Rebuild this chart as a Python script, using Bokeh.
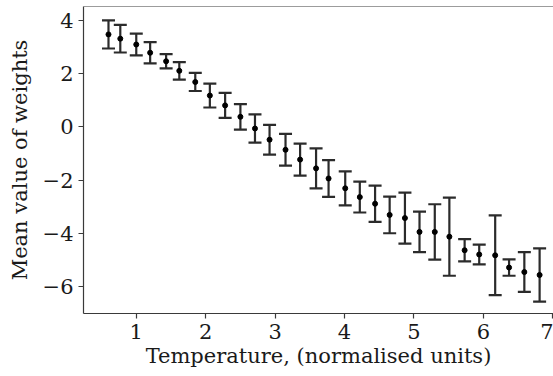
from bokeh.plotting import figure
from bokeh.models import ColumnDataSource, Whisker, TeeHead, Span, Range1d, FixedTicker, CustomJSTickFormatter
from bokeh.embed import file_html
from bokeh.resources import INLINE

# Data
temperature = [0.60, 0.77, 1.00, 1.20, 1.43, 1.62, 1.85, 2.06, 2.28, 2.50,
               2.71, 2.92, 3.15, 3.36, 3.59, 3.77, 4.01, 4.22, 4.44, 4.65,
               4.87, 5.08, 5.30, 5.51, 5.73, 5.94, 6.17, 6.37, 6.59, 6.81]
mean_weight = [3.48, 3.32, 3.10, 2.79, 2.47, 2.11, 1.69, 1.18, 0.81, 0.38,
               -0.06, -0.48, -0.86, -1.23, -1.56, -1.94, -2.31, -2.64, -2.89, -3.31,
               -3.43, -3.95, -3.95, -4.13, -4.64, -4.80, -4.83, -5.29, -5.46, -5.57]
error = [0.53, 0.52, 0.41, 0.40, 0.27, 0.33, 0.34, 0.45, 0.47, 0.48,
         0.53, 0.56, 0.60, 0.60, 0.75, 0.69, 0.64, 0.58, 0.68, 0.69,
         0.96, 0.76, 1.04, 1.47, 0.42, 0.37, 1.50, 0.31, 0.75, 1.00]
x_ticks = [1, 2, 3, 4, 5, 6, 7]
y_ticks = [-6, -4, -2, 0, 2, 4]

lower = [m - e for m, e in zip(mean_weight, error)]
upper = [m + e for m, e in zip(mean_weight, error)]
src = ColumnDataSource(dict(x=temperature, y=mean_weight, lo=lower, hi=upper))

FONT = "DejaVu Serif"
SPINE = "#3a3a3a"
Y_TOP = 4.53

p = figure(width=553, height=376, output_backend="svg", toolbar_location=None,
           x_range=Range1d(0.24, 7.01), y_range=Range1d(-7.02, Y_TOP),
           min_border_left=83, min_border_right=0, min_border_top=6, min_border_bottom=63)
p.outline_line_color = None
p.grid.visible = False
p.background_fill_color = "white"
p.border_fill_color = "white"

top = Span(location=Y_TOP, dimension="width", line_color=SPINE, line_width=1.2)
p.add_layout(top)

w = Whisker(source=src, base="x", lower="lo", upper="hi", dimension="height",
            line_color="#2b2b2b", line_width=2.2,
            upper_head=TeeHead(size=13, line_color="#2b2b2b", line_width=2.2),
            lower_head=TeeHead(size=13, line_color="#2b2b2b", line_width=2.2))
p.add_layout(w)
p.scatter("x", "y", source=src, size=5, color="black")

minus_fmt = CustomJSTickFormatter(code="return tick < 0 ? '\u2212' + Math.abs(tick) : String(tick);")

for ax in (p.xaxis[0], p.yaxis[0]):
    ax.axis_line_color = SPINE
    ax.axis_line_width = 1.2
    ax.major_tick_line_color = SPINE
    ax.major_tick_line_width = 1.2
    ax.major_tick_out = 5
    ax.major_tick_in = 0
    ax.minor_tick_line_color = None
    ax.major_label_text_font = FONT
    ax.major_label_text_font_size = "21px"
    ax.major_label_text_color = "#1a1a1a"
    ax.axis_label_text_font = FONT
    ax.axis_label_text_font_size = "21px"
    ax.axis_label_text_font_style = "normal"
    ax.axis_label_text_color = "#1a1a1a"
    ax.major_label_standoff = 5

p.xaxis[0].ticker = FixedTicker(ticks=x_ticks)
p.yaxis[0].ticker = FixedTicker(ticks=y_ticks)
p.yaxis[0].formatter = minus_fmt
p.xaxis[0].axis_label = "Temperature, (normalised units)"
p.yaxis[0].axis_label = "Mean value of weights"
p.xaxis[0].axis_label_standoff = 2
p.yaxis[0].axis_label_standoff = 8

open("out.html", "w").write(file_html(p, INLINE))
